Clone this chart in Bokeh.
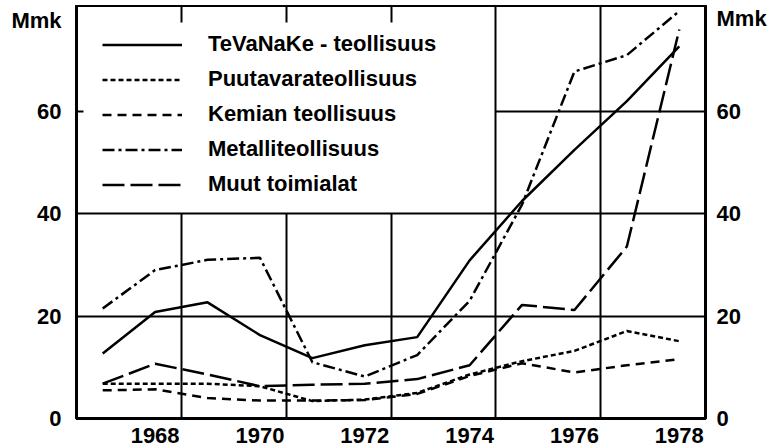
from bokeh.plotting import figure
from bokeh.models import LinearAxis, FixedTicker, Range1d, Legend, LegendItem, Grid
from bokeh.embed import file_html
from bokeh.resources import INLINE

# ---- data (Mmk) ----
years = [1967, 1968, 1969, 1970, 1971, 1972, 1973, 1974, 1975, 1976, 1977, 1978]
tevanake = [12.7, 20.8, 22.7, 16.3, 11.8, 14.3, 15.9, 30.9, 42.5, 52.5, 62.0, 72.7]
puutavara = [6.8, 6.8, 6.8, 6.3, 3.4, 3.7, 5.0, 8.6, 11.2, 13.2, 17.1, 15.1]
kemian = [5.5, 5.7, 4.0, 3.5, 3.5, 3.6, 4.8, 8.3, 10.8, 9.0, 10.4, 11.6]
metalli = [21.5, 29.0, 31.0, 31.4, 11.0, 8.2, 12.4, 23.0, 41.8, 67.8, 71.0, 79.6]
muut = [6.8, 10.7, 8.6, 6.3, 6.6, 6.8, 7.7, 10.4, 22.2, 21.2, 33.6, 76.0]

series_names = ["TeVaNaKe - teollisuus", "Puutavarateollisuus", "Kemian teollisuus",
                "Metalliteollisuus", "Muut toimialat"]
x_tick_years = [1968, 1970, 1972, 1974, 1976, 1978]
x_grid_short = [1968.5, 1970.5, 1972.5]
x_grid_full = [1974.5, 1976.5]
y_ticks = [0, 20, 40, 60]
y_grid_full = [20, 40]
y_grid_short = [60]
unit_label = "Mmk"
unit_pos_left = 77.8
unit_pos_right = 78.8

X0, X1 = 1966.5, 1978.5
Y0, Y1 = 0, 80.7

FONT = "Liberation Sans"
FS = "22px"

p = figure(width=765, height=443, output_backend="svg", toolbar_location=None,
           x_range=Range1d(X0, X1), y_range=Range1d(Y0, Y1),
           x_axis_location=None, y_axis_location=None,
           min_border_left=67, min_border_right=68, min_border_top=0, min_border_bottom=30)
p.margin = (5, 0, -2, 8)
p.center = []
p.outline_line_color = "black"
p.outline_line_width = 3
p.background_fill_color = "white"
p.border_fill_color = "white"

def style_axis(ax):
    ax.axis_line_color = "black"
    ax.axis_line_width = 3
    ax.major_tick_line_color = "black"
    ax.major_tick_line_width = 2
    ax.major_tick_in = 0
    ax.major_tick_out = 0
    ax.minor_tick_in = 0
    ax.minor_tick_out = 0
    ax.major_label_text_font = FONT
    ax.major_label_text_font_style = "bold"
    ax.major_label_text_font_size = FS
    ax.major_label_text_color = "black"

left = LinearAxis(ticker=FixedTicker(ticks=y_ticks + [unit_pos_left]),
                  major_label_overrides={unit_pos_left: unit_label})
style_axis(left)
left.major_label_standoff = 15
p.add_layout(left, "left")

right = LinearAxis(ticker=FixedTicker(ticks=y_ticks + [unit_pos_right]),
                   major_label_overrides={unit_pos_right: unit_label})
style_axis(right)
right.major_label_standoff = 11
p.add_layout(right, "right")

below = LinearAxis(ticker=FixedTicker(ticks=x_tick_years))
style_axis(below)
below.major_label_standoff = 9
p.add_layout(below, "below")

gkw = dict(grid_line_color="black", grid_line_width=2)
p.add_layout(Grid(dimension=0, ticker=FixedTicker(ticks=x_grid_short),
                  cross_bounds=(Y0, 40), **gkw), "center")
p.add_layout(Grid(dimension=0, ticker=FixedTicker(ticks=x_grid_full), **gkw), "center")
p.add_layout(Grid(dimension=1, ticker=FixedTicker(ticks=y_grid_full), **gkw), "center")
p.add_layout(Grid(dimension=1, ticker=FixedTicker(ticks=y_grid_short),
                  cross_bounds=(x_grid_full[0], X1), **gkw), "center")
# short tick marks: hanging from the top border, and at 60 on the left border
p.add_layout(Grid(dimension=0, ticker=FixedTicker(ticks=x_grid_short),
                  cross_bounds=(Y1 - 3.4, Y1), **gkw), "center")
p.add_layout(Grid(dimension=1, ticker=FixedTicker(ticks=y_grid_short),
                  cross_bounds=(X0, X0 + 0.14), **gkw), "center")

lw = 2.5
r1 = p.line(years, tevanake, line_color="black", line_width=lw)
r2 = p.line(years, puutavara, line_color="black", line_width=lw, line_dash="5 3")
r3 = p.line(years, kemian, line_color="black", line_width=lw, line_dash="9 6")
r4 = p.line(years, metalli, line_color="black", line_width=lw, line_dash="12 4 3 4")
r5 = p.line(years, muut, line_color="black", line_width=lw, line_dash="22 6")

legend = Legend(items=[LegendItem(label=n, renderers=[r]) for n, r in
                       zip(series_names, [r1, r2, r3, r4, r5])],
                location="top_left", margin=26, padding=0, spacing=9,
                glyph_width=80, glyph_height=25, label_height=25, label_standoff=26,
                label_text_font=FONT, label_text_font_style="bold",
                label_text_font_size=FS, label_text_color="black",
                background_fill_alpha=0, border_line_color=None)
p.add_layout(legend, "center")

open("out.html", "w").write(file_html(p, INLINE))
